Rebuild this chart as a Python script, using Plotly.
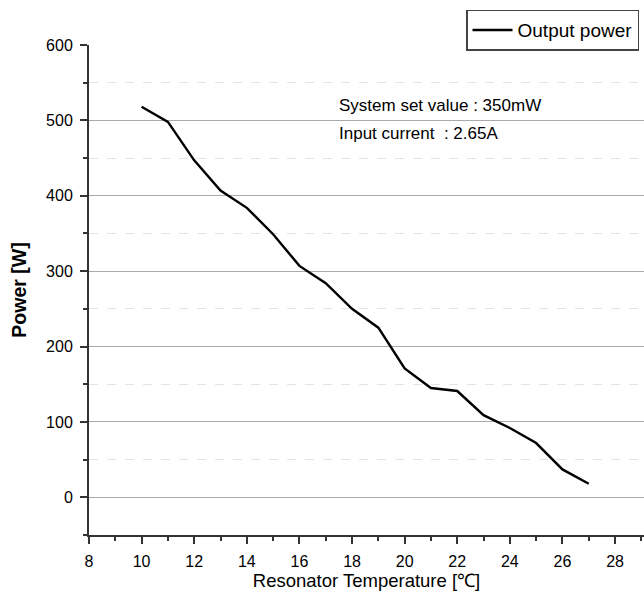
import plotly.graph_objects as go

temperature = [10, 11, 12, 13, 14, 15, 16, 17, 18, 19, 20, 21, 22, 23, 24, 25, 26, 27]
output_power = [518, 498, 447, 407, 384, 349, 307, 284, 250, 225, 171, 145, 141, 109, 92, 72, 37, 18]

x_ticks = list(range(8, 30, 2))
y_ticks = [0, 100, 200, 300, 400, 500, 600]

font_family = "Liberation Sans, Arial, sans-serif"

fig = go.Figure()
fig.add_trace(go.Scatter(
    x=temperature, y=output_power, mode="lines", name="Output power",
    line=dict(color="black", width=2.4),
))

fig.update_layout(
    width=644, height=604,
    margin=dict(l=89, r=0, t=45, b=69),
    plot_bgcolor="white", paper_bgcolor="white",
    font=dict(family=font_family, color="black", size=16),
    showlegend=True,
    legend=dict(
        x=0.991, y=1.072, xanchor="right", yanchor="top",
        bordercolor="#444", borderwidth=1.5, bgcolor="white",
        font=dict(size=19, family=font_family),
        itemwidth=40, tracegroupgap=0,
    ),
    xaxis=dict(
        range=[8, 29.1], tickvals=x_ticks, ticks="outside", ticklen=7, tickwidth=1.5,
        tickcolor="#333", showline=True, linecolor="#333", linewidth=2,
        showgrid=False, zeroline=False,
        minor=dict(dtick=1, ticks="outside", ticklen=4, tickcolor="#333", showgrid=False),
        tickfont=dict(size=16), ticklabelstandoff=4,
        title=dict(text="Resonator Temperature [℃]", font=dict(size=18.5), standoff=4),
    ),
    yaxis=dict(
        range=[-50, 600], tickvals=y_ticks, ticks="outside", ticklen=7, tickwidth=1.5,
        tickcolor="#333", showline=True, linecolor="#333", linewidth=2,
        showgrid=True, gridcolor="#aaaaaa", gridwidth=1.2, zeroline=False,
        minor=dict(dtick=50, ticks="outside", ticklen=4, tickcolor="#333",
                   showgrid=True, gridcolor="#e4e4e4", griddash="dash", gridwidth=1),
        tickfont=dict(size=16), ticklabelstandoff=4,
        title=dict(text="<b>Power [W]</b>", font=dict(size=19.5), standoff=14),
    ),
)

fig.add_annotation(x=17.43, y=520, xref="x", yref="y", xanchor="left", yanchor="middle",
                   text="System set value : 350mW", showarrow=False, font=dict(size=17))
fig.add_annotation(x=17.43, y=482, xref="x", yref="y", xanchor="left", yanchor="middle",
                   text="Input current  : 2.65A", showarrow=False, font=dict(size=17))

fig.write_html("out.html")
